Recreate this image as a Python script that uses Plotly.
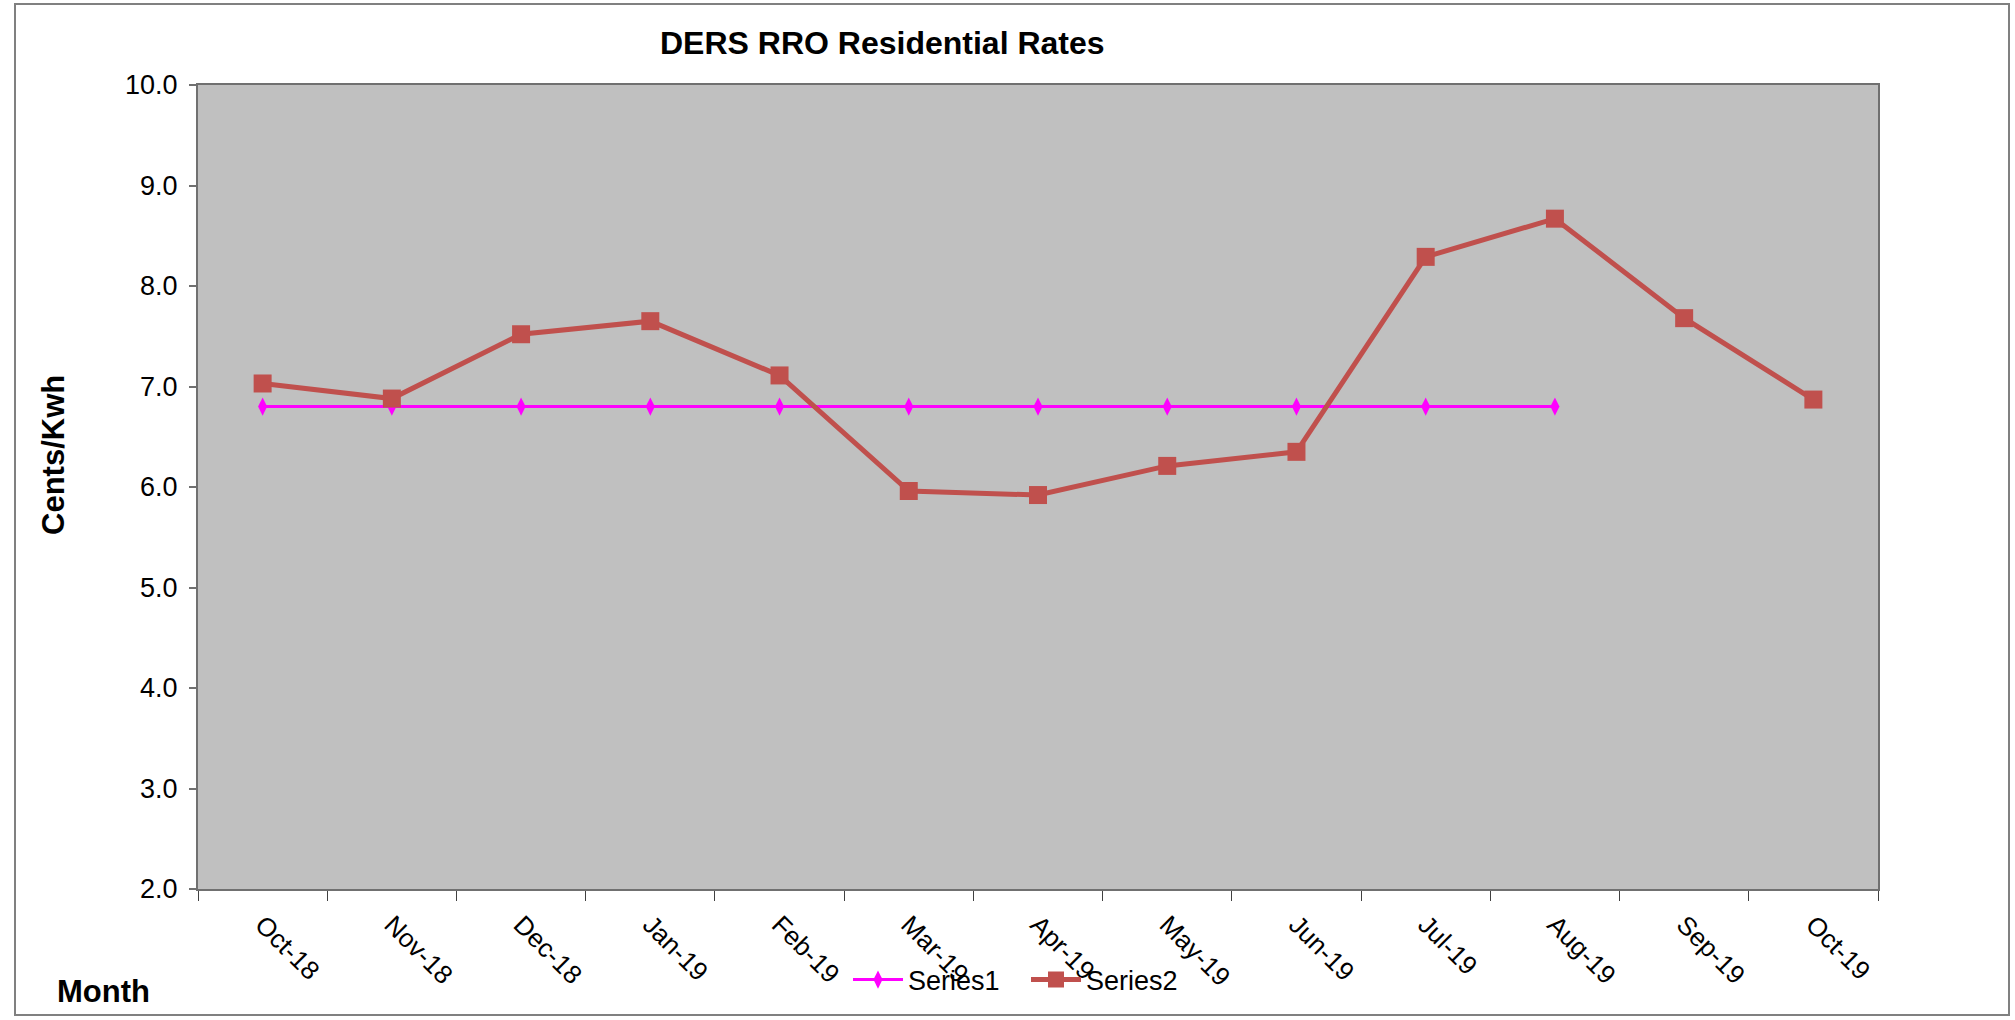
import plotly.graph_objects as go

months = ["Oct-18", "Nov-18", "Dec-18", "Jan-19", "Feb-19", "Mar-19", "Apr-19",
          "May-19", "Jun-19", "Jul-19", "Aug-19", "Sep-19", "Oct-19"]
series1 = [6.8, 6.8, 6.8, 6.8, 6.8, 6.8, 6.8, 6.8, 6.8, 6.8, 6.8, None, None]
series2 = [7.03, 6.88, 7.52, 7.65, 7.11, 5.96, 5.92, 6.21, 6.35, 8.29, 8.67, 7.68, 6.87]
y_ticks = [2, 3, 4, 5, 6, 7, 8, 9, 10]

W, H = 2015, 1020
L, R, T, B = 198, 1878, 85, 889
FONT = "Liberation Sans, Arial, sans-serif"


def px(x):
    return (x - L) / (R - L)


def py(y):
    return (B - y) / (B - T)


fig = go.Figure()
fig.add_trace(go.Scatter(
    x=months, y=series1, name="Series1", mode="lines+markers",
    line=dict(color="#FF00FF", width=3),
    marker=dict(symbol="diamond-tall", size=13, color="#FF00FF"),
))
fig.add_trace(go.Scatter(
    x=months, y=series2, name="Series2", mode="lines+markers",
    line=dict(color="#C0504D", width=5),
    marker=dict(symbol="square", size=18, color="#C0504D"),
))

fig.update_layout(
    width=W, height=H,
    margin=dict(l=L, r=W - R, t=T, b=H - B, autoexpand=False),
    paper_bgcolor="white",
    plot_bgcolor="#C0C0C0",
    font=dict(family=FONT, color="black", size=26),
    showlegend=True,
    legend=dict(
        orientation="h", x=px(848), xanchor="left", y=py(980), yanchor="middle",
        font=dict(family=FONT, size=27, color="black"),
        bgcolor="rgba(0,0,0,0)", entrywidth=113, entrywidthmode="pixels",
        itemwidth=50, tracegroupgap=0,
    ),
    xaxis=dict(
        type="category", tickangle=45, tickson="boundaries",
        ticks="outside", ticklen=10, tickcolor="#404040", tickwidth=1,
        showline=True, linecolor="#707070", linewidth=2, mirror=True,
        showgrid=False, zeroline=False, ticklabelstandoff=8,
        tickfont=dict(family=FONT, size=26, color="black"),
        range=[-0.5, 12.5],
    ),
    yaxis=dict(
        range=[2, 10], tickvals=y_ticks, tickformat=".1f",
        ticks="outside", ticklen=7, tickcolor="#707070", tickwidth=2,
        showline=True, linecolor="#707070", linewidth=2, mirror=True,
        showgrid=False, zeroline=False, ticklabelstandoff=6,
        tickfont=dict(family=FONT, size=27, color="black"),
    ),
    annotations=[
        dict(text="<b>DERS RRO Residential Rates</b>", xref="paper", yref="paper",
             x=px(882), y=py(43), xanchor="center", yanchor="middle", showarrow=False,
             font=dict(family=FONT, size=32, color="black")),
        dict(text="<b>Cents/Kwh</b>", xref="paper", yref="paper",
             x=px(54), y=py(455), xanchor="center", yanchor="middle", showarrow=False,
             textangle=-90, font=dict(family=FONT, size=31, color="black")),
        dict(text="<b>Month</b>", xref="paper", yref="paper",
             x=px(103), y=py(991), xanchor="center", yanchor="middle", showarrow=False,
             font=dict(family=FONT, size=31, color="black")),
    ],
    shapes=[
        dict(type="rect", xref="paper", yref="paper",
             x0=px(15), x1=px(2009), y0=py(1015), y1=py(4),
             line=dict(color="#808080", width=2), fillcolor="rgba(0,0,0,0)", layer="below"),
    ],
)

fig.write_html("out.html", config={"displayModeBar": False},
               post_script="document.body.style.margin='0';document.body.style.overflow='hidden';")
